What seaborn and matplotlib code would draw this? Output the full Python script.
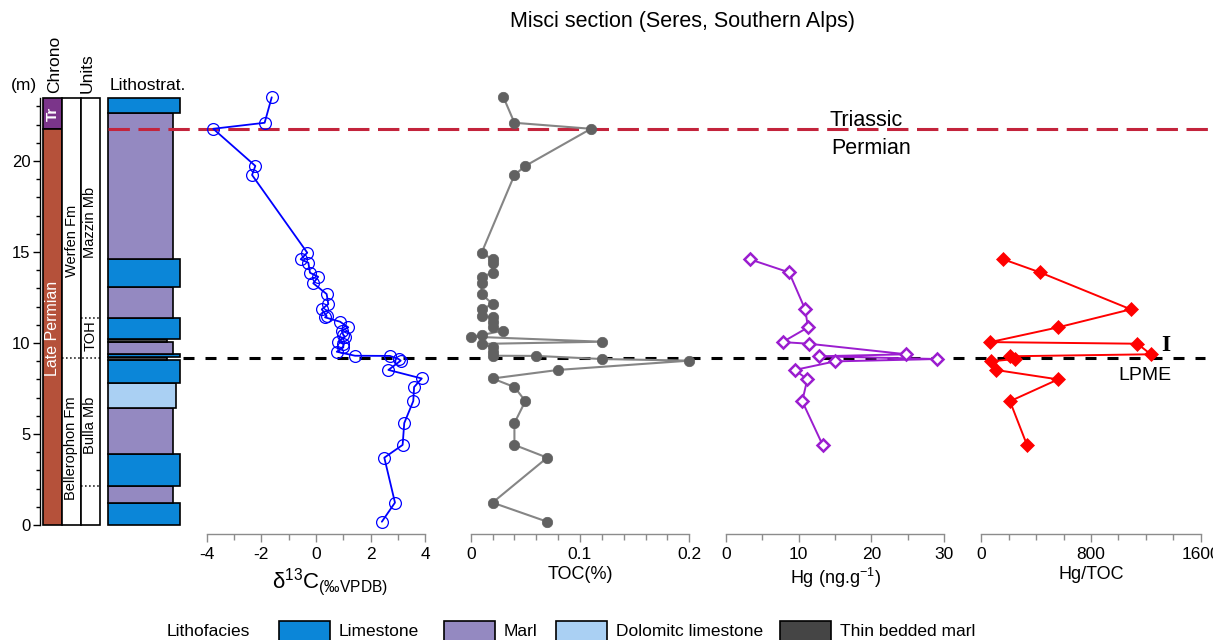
import numpy as np
import pandas as pd
import matplotlib
matplotlib.use('Agg')
import matplotlib.pyplot as plt
import matplotlib.patches as mpatches
import seaborn as sns

# Sample heights (m) for d13C and TOC
depth_geo = [23.5, 22.1, 21.77, 19.73, 19.23, 14.96, 14.6, 14.41, 13.86, 13.64,
             13.28, 12.69, 12.14, 11.85, 11.48, 11.41, 11.17, 10.86, 10.68, 10.44,
             10.35, 10.07, 9.95, 9.76, 9.52, 9.30, 9.29, 9.12, 9.03, 8.52,
             8.05, 7.58, 6.81, 5.60, 4.40, 3.70, 1.23, 0.18]
d13c = [-1.62, -1.88, -3.76, -2.22, -2.34, -0.32, -0.56, -0.28, -0.22, 0.08,
        -0.10, 0.39, 0.45, 0.21, 0.39, 0.33, 0.88, 1.18, 0.94, 1.00,
        1.06, 0.82, 1.00, 1.00, 0.76, 1.43, 2.71, 3.02, 3.10, 2.65,
        3.87, 3.59, 3.56, 3.23, 3.17, 2.50, 2.89, 2.41]
toc = [0.03, 0.04, 0.11, 0.05, 0.04, 0.01, 0.02, 0.02, 0.02, 0.01,
       0.01, 0.01, 0.02, 0.01, 0.01, 0.02, 0.02, 0.02, 0.03, 0.01,
       0.00, 0.12, 0.01, 0.02, 0.02, 0.02, 0.06, 0.12, 0.20, 0.08,
       0.02, 0.04, 0.05, 0.04, 0.04, 0.07, 0.02, 0.07]

# Hg samples
depth_hg = [14.6, 13.88, 11.85, 10.86, 10.05, 9.96, 9.38, 9.27, 9.12, 8.99,
            8.52, 8.0, 6.8, 4.4]
hg = [3.3, 8.7, 10.9, 11.3, 7.8, 11.4, 24.8, 12.8, 29.0, 15.0,
      9.5, 11.2, 10.5, 13.3]
hg_toc = [160, 428, 1090, 560, 66, 1138, 1236, 209, 246, 69,
          105, 560, 209, 333]

# Lithostratigraphy (bed base / top in m)
bed_base = [0, 1.19, 2.16, 3.88, 6.41, 7.79, 9.07, 9.21, 9.40, 10.07,
            10.20, 11.39, 13.09, 14.6, 22.62]
bed_top = bed_base[1:] + [23.45]
bed_type = ['Limestone', 'Marl', 'Limestone', 'Marl', 'Dolomitc limestone',
            'Limestone', 'Thin bedded marl', 'Limestone', 'Marl', 'Thin bedded marl',
            'Limestone', 'Marl', 'Limestone', 'Marl', 'Limestone']

section_top = 23.45
tr_boundary = 21.77
lpme = 9.18
fm_boundary = 9.16
unit_lines = [11.36, 2.16]

facies_color = {'Limestone': '#0b86d8', 'Marl': '#9489c1',
                'Dolomitc limestone': '#aad0f3', 'Thin bedded marl': '#454545'}
facies_right = {'Limestone': 180, 'Marl': 173,
                'Dolomitc limestone': 176, 'Thin bedded marl': 167}

sns.set_style('ticks')
plt.rcParams['font.family'] = ['Liberation Sans', 'DejaVu Sans']
plt.rcParams['text.color'] = 'black'
plt.rcParams['axes.labelcolor'] = 'black'
plt.rcParams['xtick.color'] = 'black'
plt.rcParams['ytick.color'] = 'black'

W, H = 1213, 640
fig = plt.figure(figsize=(W / 100, H / 100), dpi=100)

# vertical placement: depth 0 at y=525 px, 18.2 px per m
ymin, ymax = -0.5, 24.0
y_lo = 525 + 18.2 * 0.5
y_hi = 525 - 18.2 * ymax
b = (H - y_lo) / H
h = (y_lo - y_hi) / H

# ---- stratigraphic column ----
ax_col = fig.add_axes([40 / W, b, 150 / W, h], zorder=1)
ax_col.set_xlim(40, 190)
ax_col.set_ylim(ymin, ymax)
ax_col.patch.set_alpha(0)
for s in ['top', 'right', 'bottom']:
    ax_col.spines[s].set_visible(False)
ax_col.spines['left'].set_bounds(0, section_top)
ax_col.spines['left'].set_linewidth(1.0)
ax_col.spines['left'].set_color('black')
ax_col.set_xticks([])
ax_col.set_yticks(np.arange(0, 21, 5))
ax_col.set_yticks(np.arange(0, 24, 1), minor=True)
ax_col.tick_params(axis='y', which='major', length=5, width=1, labelsize=12, pad=2,
                   color='black', labelcolor='black')
ax_col.tick_params(axis='y', which='minor', length=3, width=1, color='black')

# chrono
ax_col.add_patch(mpatches.Rectangle((43, tr_boundary), 19, section_top - tr_boundary,
                                    fc='#7b358a', ec='black', lw=1.2))
ax_col.add_patch(mpatches.Rectangle((43, 0), 19, tr_boundary,
                                    fc='#b5513a', ec='black', lw=1.2))
ax_col.text(52.5, (section_top + tr_boundary) / 2, 'Tr', rotation=90, color='white',
            fontsize=11, fontweight='bold', ha='center', va='center')
ax_col.text(52.5, 10.8, 'Late Permian', rotation=90, color='white',
            fontsize=11.5, ha='center', va='center')

# units
ax_col.add_patch(mpatches.Rectangle((62, 0), 19, section_top, fc='white', ec='black', lw=1.2))
ax_col.add_patch(mpatches.Rectangle((81, 0), 19, section_top, fc='white', ec='black', lw=1.2))
ax_col.plot([62, 100], [fm_boundary, fm_boundary], color='black', ls=':', lw=1.1)
for u in unit_lines:
    ax_col.plot([81, 100], [u, u], color='black', ls=':', lw=1.1)
ax_col.text(71.5, 15.6, 'Werfen Fm', rotation=90, fontsize=10.5, ha='center', va='center')
ax_col.text(71.5, 4.2, 'Bellerophon Fm', rotation=90, fontsize=10.5, ha='center', va='center')
ax_col.text(90.5, 16.6, 'Mazzin Mb', rotation=90, fontsize=10.5, ha='center', va='center')
ax_col.text(90.5, 10.4, 'TOH', rotation=90, fontsize=10.5, ha='center', va='center')
ax_col.text(90.5, 5.5, 'Bulla Mb', rotation=90, fontsize=10.5, ha='center', va='center')

# lithostrat beds
for base, top, kind in zip(bed_base, bed_top, bed_type):
    ax_col.add_patch(mpatches.Rectangle((108, base), facies_right[kind] - 108, top - base,
                                        fc=facies_color[kind], ec='black', lw=1.2))

# headers
ax_col.text(55, 23.75, 'Chrono', rotation=90, fontsize=12.5, ha='center', va='bottom')
ax_col.text(87, 23.75, 'Units', rotation=90, fontsize=12.5, ha='center', va='bottom')
ax_col.text(24, 23.75, '(m)', fontsize=12.5, ha='center', va='bottom', clip_on=False)
ax_col.text(110, 23.75, 'Lithostrat.', fontsize=12.5, ha='left', va='bottom')

# ---- overlay for boundaries ----
ax_ov = fig.add_axes([0, b, 1, h], zorder=2)
ax_ov.set_xlim(0, W)
ax_ov.set_ylim(ymin, ymax)
ax_ov.axis('off')
ax_ov.plot([108, W], [tr_boundary, tr_boundary], color='#c3243c', lw=2.2, dashes=(7, 2.8))
ax_ov.plot([183, 1205], [lpme, lpme], color='black', lw=2.2, dashes=(3.6, 3.6))
ax_ov.text(866, 22.25, 'Triassic', fontsize=15.5, ha='center', va='center')
ax_ov.text(871, 20.71, 'Permian', fontsize=15.5, ha='center', va='center')
ax_ov.text(1145, 8.19, 'LPME', fontsize=14, ha='center', va='center')
ax_ov.text(1166, 9.89, 'I', fontsize=17, fontweight='bold', ha='center', va='center',
           family='Liberation Serif')


def data_axis(left_px, width_px, xlim, major, minor, ticklabels):
    ax = fig.add_axes([left_px / W, b, width_px / W, h], zorder=3)
    ax.patch.set_alpha(0)
    ax.set_xlim(xlim)
    ax.set_ylim(ymin, ymax)
    for s in ['top', 'right', 'left']:
        ax.spines[s].set_visible(False)
    ax.spines['bottom'].set_color('#8c8c8c')
    ax.spines['bottom'].set_linewidth(1.0)
    ax.set_yticks([])
    ax.set_xticks(np.arange(xlim[0], xlim[1] + minor / 2, minor), minor=True)
    ticks = np.arange(xlim[0], xlim[1] + major / 2, major)
    ax.set_xticks(ticks)
    ax.set_xticklabels(ticklabels)
    ax.tick_params(axis='x', which='major', length=6, width=1, color='#8c8c8c',
                   labelcolor='black', labelsize=12.5, pad=3)
    ax.tick_params(axis='x', which='minor', length=4, width=1, color='#8c8c8c')
    return ax


# ---- d13C ----
ax1 = data_axis(206.7, 218.6, (-4, 4), 2, 1, ['-4', '-2', '0', '2', '4'])
sns.lineplot(x=d13c, y=depth_geo, sort=False, estimator=None, ax=ax1,
             color='#0000ff', linewidth=1.3, marker='o', markersize=8.5,
             markerfacecolor='none', markeredgecolor='#0000ff', markeredgewidth=0.9,
             clip_on=False)
ax1.set_xlabel(r'δ$^{\mathregular{13}}$C$_{\mathregular{(‰VPDB)}}$', fontsize=16, labelpad=1)
ax1.xaxis.set_label_coords((330 - 206.7) / 218.6, -0.072)
ax1.set_ylabel('')

# ---- TOC ----
ax2 = data_axis(470.7, 218.6, (0, 0.2), 0.1, 0.02, ['0', '0.1', '0.2'])
sns.lineplot(x=toc, y=depth_geo, sort=False, estimator=None, ax=ax2,
             color='#858585', linewidth=1.5, marker='o', markersize=7.5,
             markerfacecolor='#616161', markeredgecolor='#616161', markeredgewidth=0.5,
             clip_on=False)
ax2.set_xlabel('TOC(%)', fontsize=13, labelpad=3)
ax2.set_ylabel('')

# ---- Hg ----
ax3 = data_axis(725.7, 218.6, (0, 30), 10, 5, ['0', '10', '20', '30'])
sns.lineplot(x=hg, y=depth_hg, sort=False, estimator=None, ax=ax3,
             color='#9b1dcf', linewidth=1.4, marker='D', markersize=6,
             markerfacecolor='white', markeredgecolor='#9b1dcf', markeredgewidth=1.8,
             clip_on=False)
ax3.set_xlabel(r'Hg (ng.g$^{\mathregular{-1}}$)', fontsize=13, labelpad=3)
ax3.set_ylabel('')

# ---- Hg/TOC ----
ax4 = data_axis(981.3, 219.4, (0, 1600), 800, 200, ['0', '800', '1600'])
sns.lineplot(x=hg_toc, y=depth_hg, sort=False, estimator=None, ax=ax4,
             color='#ff0000', linewidth=1.4, marker='D', markersize=7.5,
             markerfacecolor='#ff0000', markeredgecolor='#ff0000', markeredgewidth=0.5,
             clip_on=False)
ax4.set_xlabel('Hg/TOC', fontsize=13, labelpad=3)
ax4.set_ylabel('')

# title
fig.text(682 / W, 1 - 22 / H, 'Misci section (Seres, Southern Alps)', fontsize=15.5,
         ha='center', va='center')

# legend along the bottom edge
fig.text(167 / W, 1 - 632 / H, 'Lithofacies', fontsize=12.5, ha='left', va='center')
legend_items = [('Limestone', 279), ('Marl', 444), ('Dolomitc limestone', 556),
                ('Thin bedded marl', 780)]
for name, x0 in legend_items:
    fig.add_artist(mpatches.Rectangle((x0 / W, -0.01), 51 / W, (H - 621) / H + 0.01,
                                      transform=fig.transFigure, fc=facies_color[name],
                                      ec='black', lw=1.2))
    fig.text((x0 + 60) / W, 1 - 632 / H, name, fontsize=12.5, ha='left', va='center')

fig.savefig('out.png', dpi=100)
